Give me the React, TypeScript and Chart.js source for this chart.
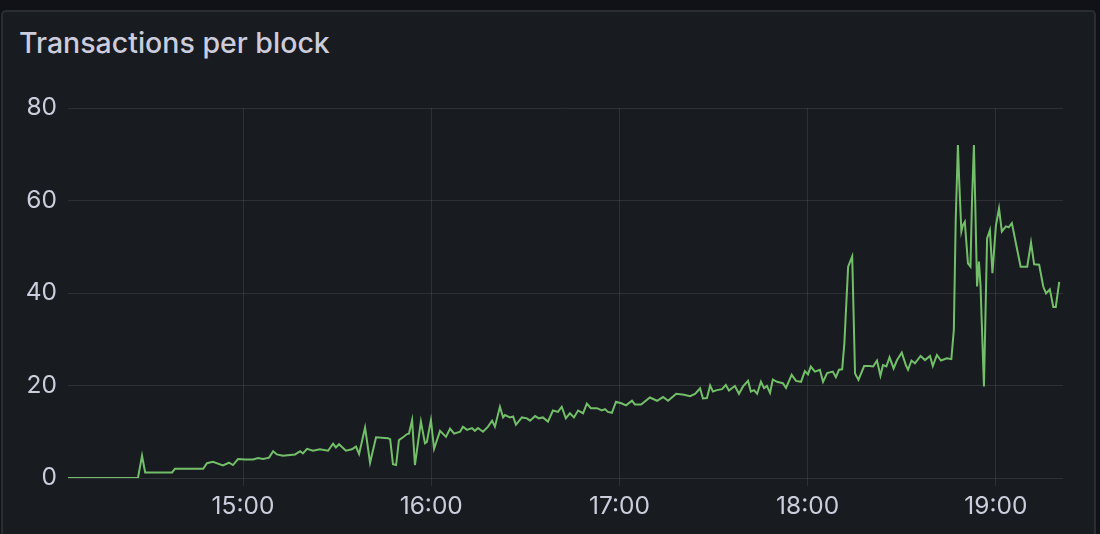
import React, { useEffect, useRef } from "react";
import { Chart, registerables } from "chart.js";

Chart.register(...registerables);

// minutes after 14:00
const times = [
  4.2, 26.5, 27.8, 28.8, 37.4, 38.3, 47.3, 48.5, 50.4, 53.6, 55.5, 56.8, 58.4, 60.6, 63.2, 64.8, 66.4, 68.3, 69.6, 70.8,
  72.7, 76.6, 78.2, 79.1, 80.4, 82.3, 84.5, 87.1, 88.7, 89.6, 90.6, 92.8, 94.7, 96.0, 97.0, 98.9, 100.5, 102.4, 106.2, 106.9,
  107.8, 108.8, 109.7, 111.0, 112.3, 112.9, 113.9, 114.8, 116.7, 118.0, 118.6, 119.9, 120.9, 122.8, 124.7, 126.0, 127.3, 129.2, 130.1, 131.4,
  133.0, 133.9, 134.9, 136.5, 138.1, 139.4, 140.3, 141.9, 142.9, 143.5, 145.1, 146.1, 147.0, 148.9, 150.5, 151.5, 153.1, 154.3, 155.6, 157.2,
  158.8, 160.4, 161.6, 162.9, 164.2, 165.5, 166.8, 168.4, 169.6, 170.9, 172.8, 174.4, 175.4, 176.3, 177.6, 178.9, 180.8, 182.1, 184.0, 184.9,
  186.9, 189.7, 192.0, 193.9, 195.5, 198.1, 200.6, 202.5, 204.1, 205.7, 206.6, 207.9, 208.9, 209.8, 211.1, 212.7, 213.9, 214.9, 216.8, 218.1,
  219.4, 221.0, 221.9, 222.9, 223.9, 225.1, 226.1, 227.0, 228.0, 228.9, 230.2, 232.1, 233.1, 234.9, 236.3, 237.9, 239.1, 240.1, 241.0, 242.3,
  243.9, 244.9, 246.2, 248.0, 249.0, 250.0, 251.0, 251.7, 252.9, 254.2, 255.1, 256.2, 258.0, 259.7, 260.9, 262.1, 263.2, 264.0, 265.1, 266.1,
  267.4, 268.5, 270.0, 271.3, 272.0, 273.1, 274.2, 276.0, 277.4, 279.0, 279.9, 281.2, 282.5, 284.4, 285.8, 286.6, 287.2, 287.9, 288.3, 289.0,
  289.5, 290.1, 291.1, 291.9, 292.4, 293.0, 293.4, 294.0, 294.6, 295.1, 296.2, 297.2, 298.1, 298.9, 300.0, 301.0, 301.9, 303.2, 304.1, 305.1,
  306.6, 307.9, 310.0, 311.2, 312.2, 313.8, 315.1, 316.0, 317.2, 318.3, 319.1, 320.2,
];

const txPerBlock = [
  0, 0, 4.8, 1.2, 1.2, 2.0, 2.0, 3.2, 3.5, 2.7, 3.3, 2.8, 4.1, 4.0, 4.0, 4.3, 4.1, 4.4, 5.8, 5.1,
  4.8, 5.1, 5.8, 5.3, 6.3, 5.9, 6.2, 5.9, 7.4, 6.6, 7.3, 5.9, 6.2, 6.8, 5.2, 10.9, 3.3, 8.8, 8.6, 8.4,
  3.0, 2.8, 8.2, 8.8, 9.5, 9.6, 12.5, 2.8, 12.2, 7.5, 7.8, 12.5, 6.3, 10.2, 8.9, 10.7, 9.6, 10.0, 11.1, 10.4,
  10.8, 10.2, 10.8, 10.0, 11.1, 12.4, 11.1, 15.4, 13.1, 13.6, 13.1, 13.3, 11.5, 13.1, 12.9, 12.4, 13.4, 12.9, 13.1, 12.2,
  14.6, 14.3, 15.4, 12.9, 14.0, 13.1, 14.6, 14.0, 16.1, 15.1, 15.1, 14.6, 14.9, 14.3, 14.1, 16.5, 16.1, 15.7, 16.7, 15.9,
  15.9, 17.4, 16.7, 17.5, 16.7, 18.2, 18.0, 17.7, 18.2, 19.4, 17.2, 17.3, 20.0, 18.7, 19.0, 19.2, 20.1, 18.9, 19.9, 18.2,
  19.8, 21.0, 18.7, 19.0, 18.2, 20.8, 19.4, 19.9, 18.4, 21.3, 20.8, 20.5, 19.5, 22.3, 21.0, 20.8, 23.1, 22.4, 24.1, 23.0,
  23.4, 20.8, 22.7, 23.0, 21.8, 23.4, 23.5, 29.1, 45.7, 47.9, 22.6, 21.2, 24.2, 24.2, 24.1, 25.4, 22.1, 24.4, 24.1, 26.1,
  23.7, 25.5, 27.1, 24.4, 23.4, 25.4, 24.8, 26.4, 25.5, 26.4, 24.2, 26.6, 25.4, 25.9, 25.7, 32.0, 55.8, 72.0, 64.4, 53.3,
  54.7, 55.4, 46.4, 45.7, 60.1, 72.0, 60.1, 41.4, 46.8, 41.7, 19.8, 51.8, 53.6, 44.3, 54.5, 58.3, 53.3, 54.4, 54.2, 55.1,
  50.0, 45.7, 45.7, 50.9, 46.2, 46.1, 41.4, 39.9, 40.8, 37.0, 37.0, 42.4,
];

const xTickValues = [60, 120, 180, 240, 300];
const xTickLabels = ["15:00", "16:00", "17:00", "18:00", "19:00"];
const yTickLabels = ["0", "20", "40", "60", "80"];

const TEXT = "#ccccdc";
const GRID = "rgba(204,204,220,0.12)";

export default function App() {
  const ref = useRef<HTMLCanvasElement | null>(null);

  useEffect(() => {
    if (!ref.current) return;
    const chart = new Chart(ref.current, {
      type: "line",
      data: {
        datasets: [
          {
            label: "Transactions per block",
            data: times.map((t, i) => ({ x: t, y: txPerBlock[i] })),
            borderColor: "#73bf69",
            backgroundColor: "#73bf69",
            borderWidth: 2,
            pointRadius: 0,
            tension: 0,
          },
        ],
      },
      options: {
        responsive: false,
        animation: false,
        events: [],
        layout: { padding: { left: 0, top: 108, right: 37, bottom: 0 } },
        plugins: { legend: { display: false }, tooltip: { enabled: false }, title: { display: false } },
        scales: {
          x: {
            type: "linear",
            min: 4.2,
            max: 321.4,
            afterBuildTicks: (axis: any) => {
              axis.ticks = xTickValues.map((v) => ({ value: v }));
            },
            afterFit: (scale: any) => {
              scale.height = 56;
            },
            ticks: {
              color: TEXT,
              font: { family: "Inter", size: 24.5 },
              padding: 6,
              maxRotation: 0,
              autoSkip: false,
              callback: (v: any) => {
                const i = xTickValues.indexOf(Number(v));
                return i >= 0 ? xTickLabels[i] : "";
              },
            },
            grid: { color: GRID, lineWidth: 1, drawTicks: true, tickLength: 8, tickColor: GRID },
            border: { display: false },
          },
          y: {
            min: 0,
            max: 80,
            afterFit: (scale: any) => {
              scale.width = 68;
            },
            ticks: {
              color: TEXT,
              font: { family: "Inter", size: 24.5 },
              stepSize: 20,
              padding: 11,
              callback: (v: any) => yTickLabels[Math.round(Number(v) / 20)] ?? "",
            },
            grid: { color: GRID, lineWidth: 1, drawTicks: false },
            border: { display: false },
          },
        },
      },
    });
    return () => chart.destroy();
  }, []);

  return (
    <div style={{ position: "fixed", left: 0, top: 0, width: 1100, height: 534, background: "#111217", overflow: "hidden" }}>
      <div
        style={{
          position: "absolute",
          left: 1,
          top: 10,
          width: 1095,
          height: 540,
          background: "#181b1f",
          border: "2px solid #2a2d32",
          borderRadius: 5,
          boxSizing: "border-box",
        }}
      />
      <div
        style={{
          position: "absolute",
          left: 19,
          top: 29,
          fontFamily: "Inter, sans-serif",
          fontWeight: 500,
          fontSize: 28.5,
          lineHeight: "28px",
          color: TEXT,
          whiteSpace: "nowrap",
        }}
      >
        Transactions per block
      </div>
      <canvas ref={ref} width={1100} height={534} style={{ position: "absolute", left: 0, top: 0, width: 1100, height: 534 }} />
    </div>
  );
}
